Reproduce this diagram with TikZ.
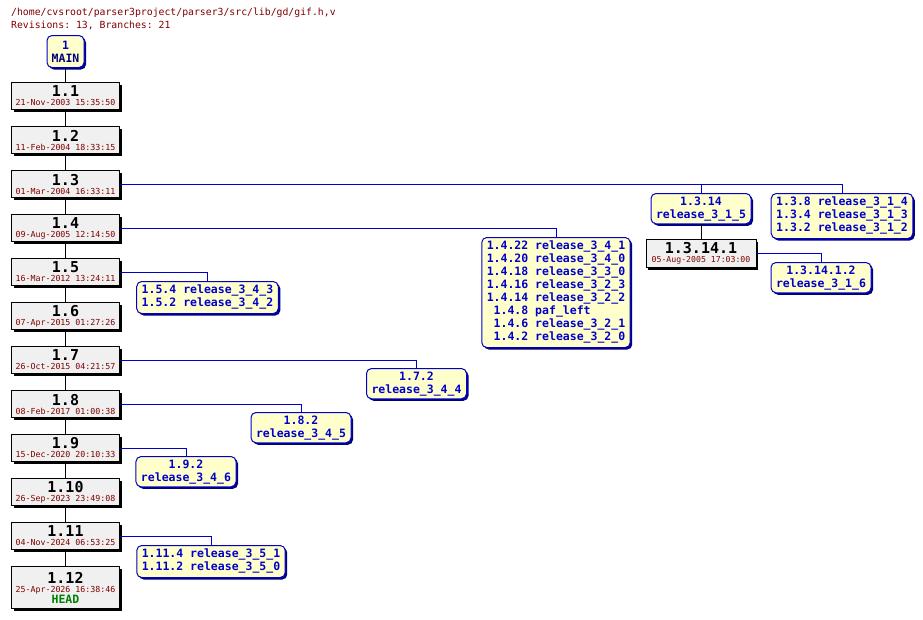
\documentclass[tikz,border=0pt]{standalone}
\usepackage{fontspec}
\setmonofont{DejaVu Sans Mono}
\usetikzlibrary{shadows}
\definecolor{cvsred}{HTML}{800000}
\definecolor{cvsblue}{HTML}{0000CC}
\definecolor{cvsnavy}{HTML}{000080}
\definecolor{cvsgreen}{HTML}{008000}
\definecolor{revfill}{HTML}{F0F0F0}
\definecolor{tagfill}{HTML}{FFFFCC}

\begin{document}
\begin{tikzpicture}[x=1pt,y=-1pt,every node/.style={font=\ttfamily},
  rev/.style={draw,line width=1pt,fill=revfill,minimum width=108pt,minimum height=27pt,inner sep=0pt,align=center,anchor=north,
    font=\ttfamily\fontsize{8.3}{9}\selectfont,drop shadow={shadow xshift=2pt,shadow yshift=-2pt,fill=black,opacity=1}},
  tag/.style={draw=cvsblue,line width=1pt,fill=tagfill,rounded corners=5pt,text=cvsblue,anchor=north,inner xsep=5pt,inner ysep=3pt,align=center,
    font=\ttfamily\bfseries\fontsize{11.5}{13}\selectfont,drop shadow={shadow xshift=2pt,shadow yshift=-2pt,fill=cvsnavy,opacity=1}},
  branch/.style={cvsblue,line width=1pt},
  trunk/.style={black,line width=1pt}]
\useasboundingbox (0,0) rectangle (923,619);
% header
\node[anchor=base west,inner sep=0pt,text=cvsred,font=\ttfamily\fontsize{9.8}{10}\selectfont] (path) at (11,15) {/home/cvsroot/parser3project/parser3/src/lib/gd/gif.h,v};
\node[anchor=base west,inner sep=0pt,text=cvsred,font=\ttfamily\fontsize{9.8}{10}\selectfont] (info) at (11,28) {Revisions: 13, Branches: 21};
% trunk
\node[tag,minimum width=37pt,minimum height=32pt,inner xsep=2pt] (main) at (65.5,35) {1\\{\color{cvsnavy}MAIN}};
\foreach \rv/\dt [count=\i] in {1.1/21-Nov-2003 15:35:50,1.2/11-Feb-2004 18:33:15,1.3/01-Mar-2004 16:33:11,1.4/09-Aug-2005 12:14:50,
  1.5/16-Mar-2012 13:24:11,1.6/07-Apr-2015 01:27:26,1.7/26-Oct-2015 04:21:57,1.8/08-Feb-2017 01:00:38,1.9/15-Dec-2020 20:10:33,
  1.10/26-Sep-2023 23:49:08,1.11/04-Nov-2024 06:53:25}
  \node[rev] (r\i) at (65.5,{82+44*(\i-1)}) {{\fontsize{15}{15}\selectfont\bfseries \rv}\\{\color{cvsred}\dt}};
\node[rev,minimum height=42pt] (r12) at (65.5,566) {{\fontsize{15}{15}\selectfont\bfseries 1.12}\\{\color{cvsred}25-Apr-2026 16:38:46}\\{\color{cvsgreen}\fontsize{11.5}{12}\selectfont\bfseries HEAD}};
\draw[trunk] (main) -- (r1);
\foreach \i [evaluate=\i as \j using int(\i+1)] in {1,...,11}
  \draw[trunk] (r\i) -- (r\j);
% branches
\node[tag] (t3a) at (701,193) {1.3.14\\release\_3\_1\_5};
\node[tag] (t3b) at (842,193) {\begin{tabular}{@{}r@{ }l@{}}1.3.8&release\_3\_1\_4\\1.3.4&release\_3\_1\_3\\1.3.2&release\_3\_1\_2\end{tabular}};
\node[rev,minimum width=110pt,minimum height=28pt] (r31) at (701,239) {{\fontsize{15}{15}\selectfont\bfseries 1.3.14.1}\\{\color{cvsred}\fontsize{8.2}{9}\selectfont 05-Aug-2005 17:03:00}};
\node[tag] (t31) at (821,262) {1.3.14.1.2\\release\_3\_1\_6};
\node[tag] (t4) at (556,237) {\begin{tabular}{@{}r@{ }l@{}}1.4.22&release\_3\_4\_1\\1.4.20&release\_3\_4\_0\\1.4.18&release\_3\_3\_0\\1.4.16&release\_3\_2\_3\\
  1.4.14&release\_3\_2\_2\\1.4.8&paf\_left\\1.4.6&release\_3\_2\_1\\1.4.2&release\_3\_2\_0\end{tabular}};
\node[tag] (t5) at (207.5,281) {\begin{tabular}{@{}r@{ }l@{}}1.5.4&release\_3\_4\_3\\1.5.2&release\_3\_4\_2\end{tabular}};
\node[tag] (t7) at (416.5,368) {1.7.2\\release\_3\_4\_4};
\node[tag] (t8) at (301,412) {1.8.2\\release\_3\_4\_5};
\node[tag] (t9) at (186,456) {1.9.2\\release\_3\_4\_6};
\node[tag] (t11) at (211,545) {\begin{tabular}{@{}r@{ }l@{}}1.11.4&release\_3\_5\_1\\1.11.2&release\_3\_5\_0\end{tabular}};
\draw[branch] (r3.east) -| (t3a.north);
\draw[branch] (r3.east) -| (t3b.north);
\draw[trunk] (t3a) -- (r31);
\draw[branch] (r31.east) -| (t31.north);
\draw[branch] (r4.east) -| (t4.north);
\draw[branch] (r5.east) -| (t5.north);
\draw[branch] (r7.east) -| (t7.north);
\draw[branch] (r8.east) -| (t8.north);
\draw[branch] (r9.east) -| (t9.north);
\draw[branch] (r11.east) -| (t11.north);
\end{tikzpicture}
\end{document}
